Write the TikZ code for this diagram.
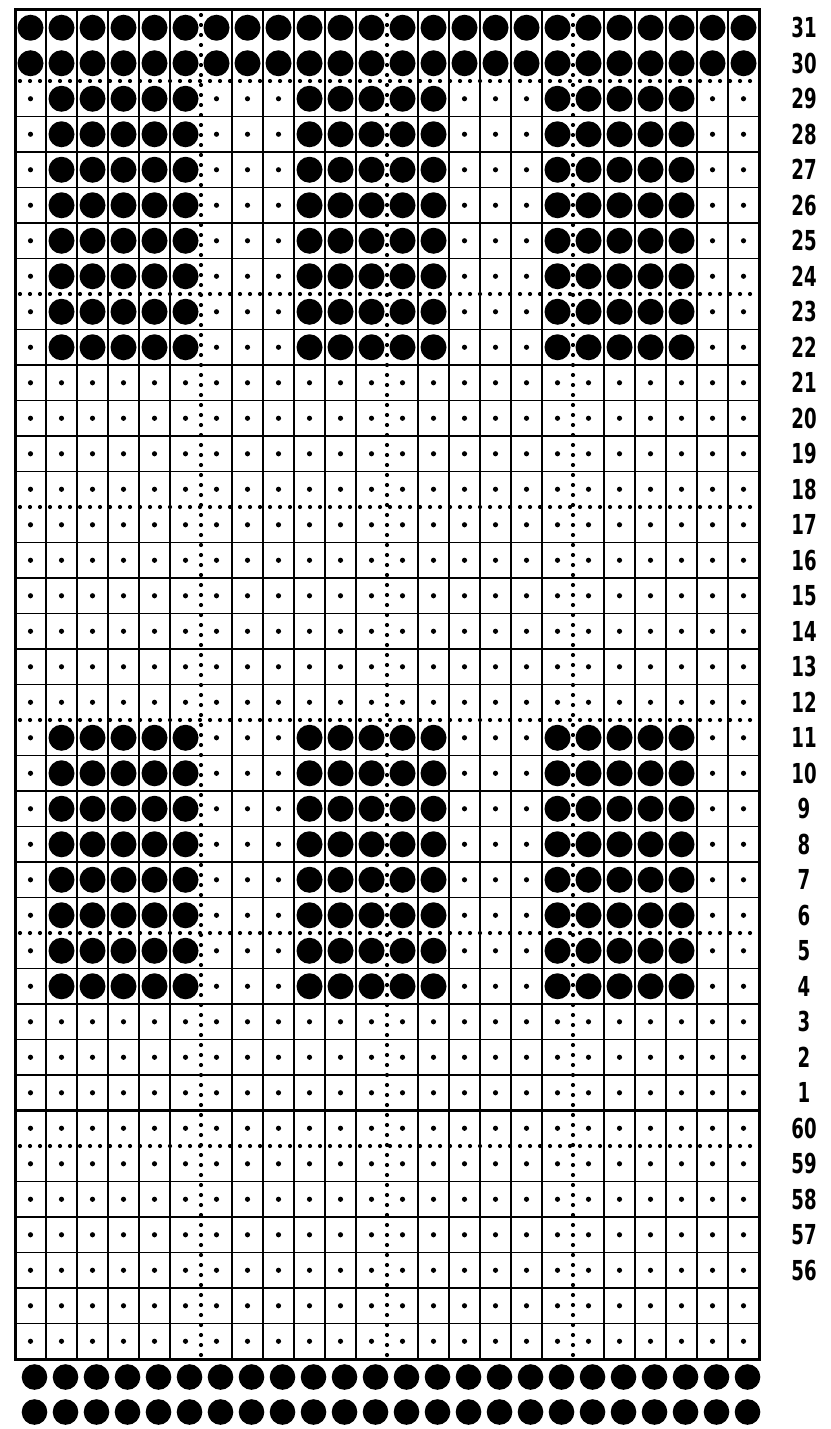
\documentclass[tikz,border=0pt]{standalone}
\usepackage{fontspec}
\setmainfont{Liberation Sans}
\newfontfamily\labfont{DejaVu Sans}
\begin{document}
\begin{tikzpicture}[x=1pt,y=-1pt,
  gridline/.style={line width=1.8pt},
  border/.style={line width=3pt},
  dotline/.style={line width=4.2pt, dash pattern=on 0pt off 10pt, line cap=round},
  lab/.style={font=\labfont\bfseries\fontsize{27.5}{27.5}\selectfont, inner sep=0pt}]
\useasboundingbox (0,0) rectangle (830,1429);
\def\L{15}\def\T{10}\def\W{31}\def\H{35.5}\def\R{759}\def\B{1359}
% solid grid lines (not where dotted lines run)
\foreach \c in {1,...,23}{
  \pgfmathtruncatemacro\m{mod(\c,6)}
  \ifnum\m>0 \draw[gridline] (\L+\c*\W,\T) -- (\L+\c*\W,\B);\fi
}
\foreach \r in {1,...,37}{
  \pgfmathtruncatemacro\m{mod(\r-2,6)}
  \ifnum\m>0 \draw[gridline] (\L,\T+\r*\H) -- (\R,\T+\r*\H);\fi
}
% dotted guide lines
\foreach \c in {6,12,18} \draw[dotline] (\L+\c*\W,\T+5) -- (\L+\c*\W,\B);
\foreach \r in {2,8,14,20,26,32} \draw[dotline] (\L+5,\T+\r*\H) -- (\R,\T+\r*\H);
% border and separator
\draw[border] (\L,\T) rectangle (\R,\B);
\draw[line width=2.8pt] (\L,\T+31*\H) -- (\R,\T+31*\H);
% holes and dots
\foreach \r in {0,...,37}{
  \foreach \c in {0,...,23}{
    \pgfmathtruncatemacro\f{(\r<2) || ((((\r>1) && (\r<10)) || ((\r>19) && (\r<28))) && (mod(\c,8)>0) && (mod(\c,8)<6))}
    \ifnum\f=1
      \fill (\L+\c*\W+\W/2,\T+\r*\H+\H/2) circle (13);
    \else
      \fill (\L+\c*\W+\W/2,\T+\r*\H+\H/2) circle (2.6);
    \fi
  }
}
% row labels
\foreach \r in {0,...,35}{
  \pgfmathtruncatemacro\n{\r<31 ? 31-\r : 91-\r}
  \node[lab] (lab\n) at (804,\T+\r*\H+\H/2) {\scalebox{0.66}[1]{\n}};
}
% bottom rows of holes
\foreach \c in {0,...,23}{
  \fill (\L+\c*\W+\W/2+4,1377) circle (12.8);
  \fill (\L+\c*\W+\W/2+4,1412) circle (12.8);
}
\end{tikzpicture}
\end{document}
